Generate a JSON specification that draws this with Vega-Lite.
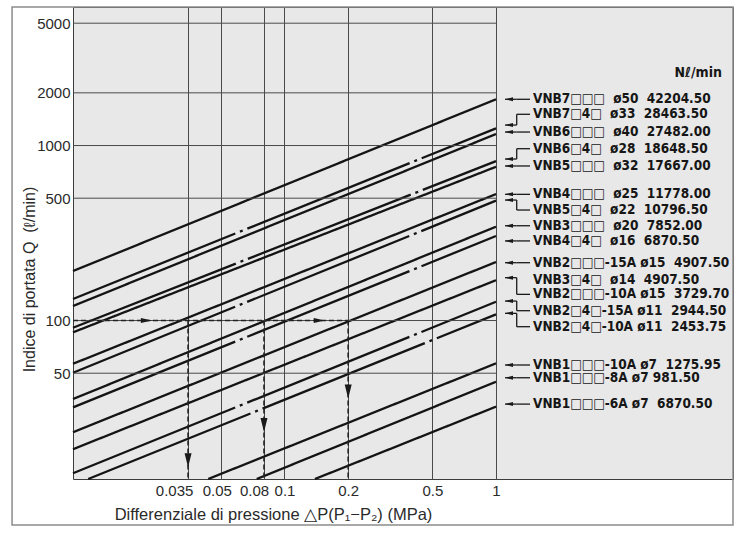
{
  "$schema": "https://vega.github.io/schema/vega-lite/v6.json",
  "width": 660,
  "height": 472,
  "autosize": {"type": "none"},
  "padding": {"left": 73, "top": 7, "right": 11, "bottom": 63},
  "background": "#ffffff",
  "config": {
    "view": {"fill": "#e8e8e8", "stroke": "#3c3c3c", "strokeWidth": 1},
    "font": "Liberation Sans"
  },
  "datasets": {
    "lines": [
      {"model": "VNB7□□□ ø50", "kind": "□□□", "dp": 0.01, "q": 191.8},
      {"model": "VNB7□□□ ø50", "kind": "□□□", "dp": 1, "q": 1837},
      {"model": "VNB7□4□ ø33", "kind": "□4□", "dp": 0.01, "q": 132.7},
      {"model": "VNB7□4□ ø33", "kind": "□4□", "dp": 1, "q": 1254},
      {"model": "VNB6□□□ ø40", "kind": "□□□", "dp": 0.01, "q": 121},
      {"model": "VNB6□□□ ø40", "kind": "□□□", "dp": 1, "q": 1163},
      {"model": "VNB6□4□ ø28", "kind": "□4□", "dp": 0.01, "q": 90.9},
      {"model": "VNB6□4□ ø28", "kind": "□4□", "dp": 1, "q": 815},
      {"model": "VNB5□□□ ø32", "kind": "□□□", "dp": 0.01, "q": 85.6},
      {"model": "VNB5□□□ ø32", "kind": "□□□", "dp": 1, "q": 756},
      {"model": "VNB4□□□ ø25", "kind": "□□□", "dp": 0.01, "q": 56.6},
      {"model": "VNB4□□□ ø25", "kind": "□□□", "dp": 1, "q": 528},
      {"model": "VNB5□4□ ø22", "kind": "□4□", "dp": 0.01, "q": 50.3},
      {"model": "VNB5□4□ ø22", "kind": "□4□", "dp": 1, "q": 484},
      {"model": "VNB3□□□ ø20", "kind": "□□□", "dp": 0.01, "q": 35.6},
      {"model": "VNB3□□□ ø20", "kind": "□□□", "dp": 1, "q": 343.6},
      {"model": "VNB4□4□ ø16", "kind": "□4□", "dp": 0.01, "q": 31.9},
      {"model": "VNB4□4□ ø16", "kind": "□4□", "dp": 1, "q": 304},
      {"model": "VNB2□□□-15A ø15", "kind": "□□□", "dp": 0.01, "q": 23.0},
      {"model": "VNB2□□□-15A ø15", "kind": "□□□", "dp": 1, "q": 216},
      {"model": "VNB2□□□-10A ø15", "kind": "□□□", "dp": 0.01, "q": 18.4},
      {"model": "VNB2□□□-10A ø15", "kind": "□□□", "dp": 1, "q": 170},
      {"model": "VNB2□4□-15A ø11", "kind": "□4□", "dp": 0.01, "q": 13.4},
      {"model": "VNB2□4□-15A ø11", "kind": "□4□", "dp": 1, "q": 128},
      {"model": "VNB2□4□-10A ø11", "kind": "□4□", "dp": 0.0118, "q": 12.43},
      {"model": "VNB2□4□-10A ø11", "kind": "□4□", "dp": 1, "q": 108.5},
      {"model": "VNB1□□□-10A ø7", "kind": "□□□", "dp": 0.0436, "q": 12.43},
      {"model": "VNB1□□□-10A ø7", "kind": "□□□", "dp": 1, "q": 56.9},
      {"model": "VNB1□□□-8A ø7", "kind": "□□□", "dp": 0.0739, "q": 12.43},
      {"model": "VNB1□□□-8A ø7", "kind": "□□□", "dp": 1, "q": 44.7},
      {"model": "VNB1□□□-6A ø7", "kind": "□□□", "dp": 0.1393, "q": 12.43},
      {"model": "VNB1□□□-6A ø7", "kind": "□□□", "dp": 1, "q": 32.2}
    ],
    "legend": [
      {"label": "VNB7□□□\u00a0\u00a0ø50\u00a0\u00a042204.50", "labelQ": 1837, "arrowQ": 1837},
      {"label": "VNB7□4□\u00a0\u00a0ø33\u00a0\u00a028463.50", "labelQ": 1508, "arrowQ": 1309},
      {"label": "VNB6□□□\u00a0\u00a0ø40\u00a0\u00a027482.00", "labelQ": 1194, "arrowQ": 1194},
      {"label": "VNB6□4□\u00a0\u00a0ø28\u00a0\u00a018648.50", "labelQ": 959, "arrowQ": 837},
      {"label": "VNB5□□□\u00a0\u00a0ø32\u00a0\u00a017667.00", "labelQ": 764, "arrowQ": 764},
      {"label": "VNB4□□□\u00a0\u00a0ø25\u00a0\u00a011778.00", "labelQ": 526, "arrowQ": 526},
      {"label": "VNB5□4□\u00a0\u00a0ø22\u00a0\u00a010796.50", "labelQ": 428, "arrowQ": 488},
      {"label": "VNB3□□□\u00a0\u00a0ø20\u00a0\u00a07852.00", "labelQ": 348, "arrowQ": 348},
      {"label": "VNB4□4□\u00a0\u00a0ø16\u00a0\u00a06870.50", "labelQ": 285, "arrowQ": 285},
      {"label": "VNB2□□□-15A ø15\u00a0\u00a04907.50", "labelQ": 214, "arrowQ": 214},
      {"label": "VNB3□4□\u00a0\u00a0ø14\u00a0\u00a04907.50", "labelQ": 170.3, "arrowQ": null},
      {"label": "VNB2□□□-10A ø15\u00a0\u00a03729.70", "labelQ": 141.1, "arrowQ": 175.7},
      {"label": "VNB2□4□-15A ø11\u00a0\u00a02944.50", "labelQ": 113.8, "arrowQ": 129.2},
      {"label": "VNB2□4□-10A ø11\u00a0\u00a02453.75", "labelQ": 92.2, "arrowQ": 109.9},
      {"label": "VNB1□□□-10A ø7\u00a0\u00a01275.95", "labelQ": 55.7, "arrowQ": 55.7},
      {"label": "VNB1□□□-8A ø7 981.50", "labelQ": 47.1, "arrowQ": 47.1},
      {"label": "VNB1□□□-6A ø7\u00a0\u00a06870.50", "labelQ": 33.3, "arrowQ": 33.3}
    ],
    "hgrid": [{"q": 50}, {"q": 100}, {"q": 500}, {"q": 1000}, {"q": 2000}, {"q": 5000}],
    "reading": [
      {"dp": 0.035, "tipQ": 14.5},
      {"dp": 0.08, "tipQ": 23.1},
      {"dp": 0.2, "tipQ": 35.9}
    ],
    "flowArrows": [{"dp": 0.0236}, {"dp": 0.155}],
    "one": [{"id": 1}]
  },
  "layer": [
    {
      "data": {"name": "lines"},
      "mark": {"type": "line", "color": "#141414", "strokeWidth": 2.3},
      "encoding": {
        "x": {
          "field": "dp", "type": "quantitative",
          "scale": {"type": "log", "domain": [0.01, 13.2], "nice": false},
          "axis": {
            "values": [0.035, 0.05, 0.08, 0.1, 0.2, 0.5, 1],
            "format": "~g",
            "grid": true, "gridColor": "#4a4a4a", "gridWidth": 1,
            "domain": false, "ticks": false,
            "labelFont": "Liberation Sans", "labelFontSize": 15, "labelColor": "#2a2a2a",
            "labelPadding": 4, "labelOverlap": false, "labelFlush": false,
            "labelOffset": {"condition": [
              {"test": "datum.value == 0.035", "value": -14},
              {"test": "datum.value == 0.05", "value": -4},
              {"test": "datum.value == 0.08", "value": -10}
            ], "value": 0},
            "title": "Differenziale di pressione △P(P₁−P₂) (MPa)",
            "titleFont": "Liberation Sans", "titleFontSize": 16.5, "titleFontWeight": "normal",
            "titleColor": "#2a2a2a", "titleX": 200, "titleY": 35,
            "titleAlign": "center", "titleBaseline": "middle"
          }
        },
        "y": {
          "field": "q", "type": "quantitative",
          "scale": {"type": "log", "domain": [12.43, 6187], "nice": false},
          "axis": {
            "values": [50, 100, 500, 1000, 2000, 5000],
            "format": "d",
            "grid": false, "domain": false, "ticks": false,
            "labelFont": "Liberation Sans", "labelFontSize": 15, "labelColor": "#2a2a2a",
            "labelPadding": 3, "labelOverlap": false, "labelFlush": false,
            "title": "Indice di portata Q\u00a0\u00a0(ℓ/min)",
            "titleFont": "Liberation Sans", "titleFontSize": 16, "titleFontWeight": "normal",
            "titleColor": "#2a2a2a", "titleX": -44, "titleY": 272,
            "titleAlign": "center", "titleBaseline": "middle", "titleAngle": -90
          }
        },
        "detail": {"field": "model", "type": "nominal"},
        "strokeDash": {
          "field": "kind", "type": "nominal",
          "scale": {"domain": ["□□□", "□4□"], "range": [[1, 0], [175, 5, 3, 5]]},
          "legend": null
        }
      }
    },
    {
      "data": {"name": "hgrid"},
      "mark": {"type": "rule", "color": "#4a4a4a", "strokeWidth": 1},
      "encoding": {
        "x": {"datum": 0.01, "type": "quantitative", "scale": {"type": "log", "domain": [0.01, 13.2], "nice": false}},
        "x2": {"datum": 1},
        "y": {"field": "q", "type": "quantitative", "scale": {"type": "log", "domain": [12.43, 6187], "nice": false}}
      }
    },
    {
      "data": {"name": "reading"},
      "mark": {"type": "rule", "color": "#222222", "strokeWidth": 1.6, "strokeDash": [5, 3]},
      "encoding": {
        "x": {"field": "dp", "type": "quantitative", "scale": {"type": "log", "domain": [0.01, 13.2], "nice": false}},
        "y": {"datum": 100, "type": "quantitative", "scale": {"type": "log", "domain": [12.43, 6187], "nice": false}},
        "y2": {"datum": 12.43}
      }
    },
    {
      "data": {"name": "one"},
      "mark": {"type": "rule", "color": "#222222", "strokeWidth": 1.6, "strokeDash": [5, 3]},
      "encoding": {
        "x": {"datum": 0.01, "type": "quantitative", "scale": {"type": "log", "domain": [0.01, 13.2], "nice": false}},
        "x2": {"datum": 0.2},
        "y": {"datum": 100, "type": "quantitative", "scale": {"type": "log", "domain": [12.43, 6187], "nice": false}}
      }
    },
    {
      "data": {"name": "reading"},
      "mark": {"type": "point", "shape": "M0,0L-0.5,-2L0.5,-2Z", "filled": true, "size": 196, "color": "#1a1a1a", "opacity": 1, "strokeWidth": 0},
      "encoding": {
        "x": {"field": "dp", "type": "quantitative", "scale": {"type": "log", "domain": [0.01, 13.2], "nice": false}},
        "y": {"field": "tipQ", "type": "quantitative", "scale": {"type": "log", "domain": [12.43, 6187], "nice": false}}
      }
    },
    {
      "data": {"name": "flowArrows"},
      "mark": {"type": "point", "shape": "M0,0L-2,-0.45L-2,0.45Z", "filled": true, "size": 121, "color": "#1a1a1a", "opacity": 1, "strokeWidth": 0},
      "encoding": {
        "x": {"field": "dp", "type": "quantitative", "scale": {"type": "log", "domain": [0.01, 13.2], "nice": false}},
        "y": {"datum": 100, "type": "quantitative", "scale": {"type": "log", "domain": [12.43, 6187], "nice": false}}
      }
    },
    {
      "data": {"name": "legend"},
      "transform": [{"filter": "datum.arrowQ != null"}],
      "mark": {"type": "rule", "color": "#1a1a1a", "strokeWidth": 1.3},
      "encoding": {
        "x": {"datum": 1.103, "type": "quantitative", "scale": {"type": "log", "domain": [0.01, 13.2], "nice": false}},
        "x2": {"datum": 1.253},
        "y": {"field": "arrowQ", "type": "quantitative", "scale": {"type": "log", "domain": [12.43, 6187], "nice": false}}
      }
    },
    {
      "data": {"name": "legend"},
      "transform": [{"filter": "datum.arrowQ != null"}],
      "mark": {"type": "rule", "color": "#1a1a1a", "strokeWidth": 1.3},
      "encoding": {
        "x": {"datum": 1.253, "type": "quantitative", "scale": {"type": "log", "domain": [0.01, 13.2], "nice": false}},
        "y": {"field": "arrowQ", "type": "quantitative", "scale": {"type": "log", "domain": [12.43, 6187], "nice": false}},
        "y2": {"field": "labelQ"}
      }
    },
    {
      "data": {"name": "legend"},
      "transform": [{"filter": "datum.arrowQ != null"}],
      "mark": {"type": "rule", "color": "#1a1a1a", "strokeWidth": 1.3},
      "encoding": {
        "x": {"datum": 1.253, "type": "quantitative", "scale": {"type": "log", "domain": [0.01, 13.2], "nice": false}},
        "x2": {"datum": 1.448},
        "y": {"field": "labelQ", "type": "quantitative", "scale": {"type": "log", "domain": [12.43, 6187], "nice": false}}
      }
    },
    {
      "data": {"name": "legend"},
      "transform": [{"filter": "datum.arrowQ != null"}],
      "mark": {"type": "point", "shape": "M0,0L2,-0.5L2,0.5Z", "filled": true, "size": 64, "color": "#1a1a1a", "opacity": 1, "strokeWidth": 0},
      "encoding": {
        "x": {"datum": 1.103, "type": "quantitative", "scale": {"type": "log", "domain": [0.01, 13.2], "nice": false}},
        "y": {"field": "arrowQ", "type": "quantitative", "scale": {"type": "log", "domain": [12.43, 6187], "nice": false}}
      }
    },
    {
      "data": {"name": "legend"},
      "mark": {"type": "text", "align": "left", "baseline": "middle", "font": "DejaVu Sans Condensed", "fontWeight": "bold", "fontSize": 13.5, "color": "#161616"},
      "encoding": {
        "x": {"datum": 1.496, "type": "quantitative", "scale": {"type": "log", "domain": [0.01, 13.2], "nice": false}},
        "y": {"field": "labelQ", "type": "quantitative", "scale": {"type": "log", "domain": [12.43, 6187], "nice": false}},
        "text": {"field": "label", "type": "nominal"}
      }
    },
    {
      "data": {"name": "one"},
      "mark": {"type": "text", "align": "right", "baseline": "middle", "font": "DejaVu Sans Condensed", "fontWeight": "bold", "fontSize": 14, "color": "#161616", "text": "Nℓ/min"},
      "encoding": {
        "x": {"datum": 11.71, "type": "quantitative", "scale": {"type": "log", "domain": [0.01, 13.2], "nice": false}},
        "y": {"datum": 2586, "type": "quantitative", "scale": {"type": "log", "domain": [12.43, 6187], "nice": false}}
      }
    },
    {
      "data": {"name": "one"},
      "mark": {"type": "rect", "fillOpacity": 0, "stroke": "#8c8c8c", "strokeWidth": 1.5},
      "encoding": {
        "x": {"datum": 0.00515, "type": "quantitative", "scale": {"type": "log", "domain": [0.01, 13.2], "nice": false}},
        "x2": {"datum": 13.2},
        "y": {"datum": 6187, "type": "quantitative", "scale": {"type": "log", "domain": [12.43, 6187], "nice": false}},
        "y2": {"datum": 6.78}
      }
    }
  ]
}
